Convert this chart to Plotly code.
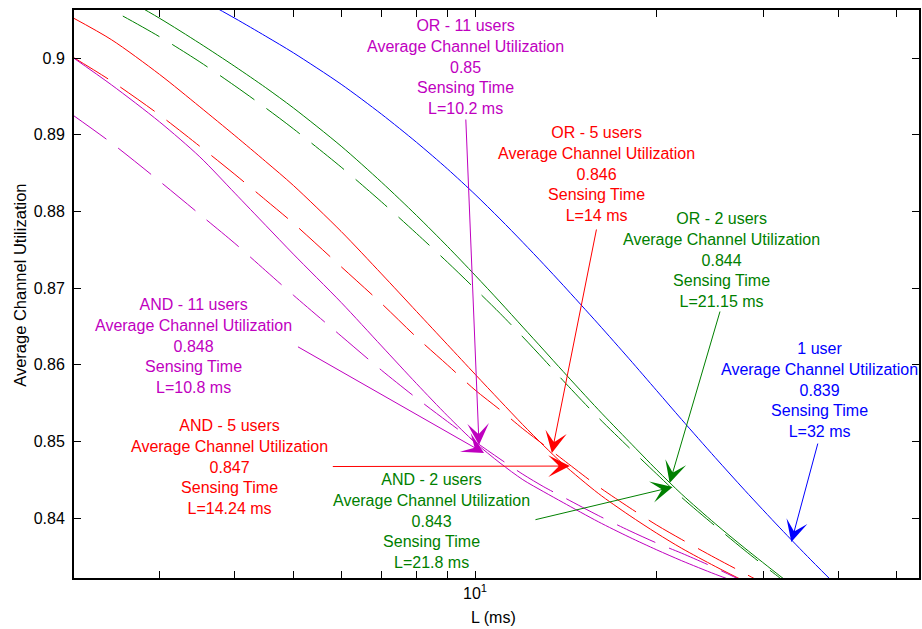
import math
import plotly.graph_objects as go

# Sensing time L (ms)
L_ms = [2.15, 2.5, 3, 3.5, 4, 4.5, 5, 6, 7, 8, 9, 10, 11, 12, 13, 14, 16, 18, 20, 22, 25, 28, 32, 36, 40]

# Average channel utilization per scheme
util_1user = [0.91522, 0.91316, 0.91034, 0.90770, 0.90518, 0.90284, 0.90068, 0.89658, 0.89267, 0.88900,
              0.88554, 0.88221, 0.87901, 0.87596, 0.87308, 0.87035, 0.86532, 0.86077, 0.85661, 0.85284,
              0.84789, 0.84360, 0.83871, 0.83455, 0.83094]
util_or2 = [0.91143, 0.90874, 0.90519, 0.90190, 0.89890, 0.89613, 0.89349, 0.88850, 0.88380, 0.87946,
            0.87543, 0.87167, 0.86818, 0.86491, 0.86190, 0.85910, 0.85415, 0.84997, 0.84628, 0.84311,
            0.83926, 0.83606, 0.83245, 0.82933, 0.82655]
util_and2 = [0.90887, 0.90626, 0.90278, 0.89949, 0.89637, 0.89348, 0.89077, 0.88577, 0.88123, 0.87711,
             0.87337, 0.86990, 0.86670, 0.86362, 0.86069, 0.85791, 0.85311, 0.84918, 0.84574, 0.84268,
             0.83896, 0.83576, 0.83218, 0.82911, 0.82631]
util_or5 = [0.90530, 0.90237, 0.89787, 0.89363, 0.88988, 0.88649, 0.88338, 0.87738, 0.87184, 0.86694,
            0.86262, 0.85876, 0.85530, 0.85217, 0.84943, 0.84702, 0.84322, 0.84037, 0.83802, 0.83605,
            0.83369, 0.83173, 0.82954, 0.82767, 0.82604]
util_and5 = [0.90017, 0.89697, 0.89258, 0.88848, 0.88482, 0.88147, 0.87845, 0.87278, 0.86798, 0.86358,
             0.85997, 0.85670, 0.85412, 0.85164, 0.84954, 0.84759, 0.84412, 0.84139, 0.83908, 0.83720,
             0.83480, 0.83275, 0.83034, 0.82826, 0.8265]
util_or11 = [0.90013, 0.89648, 0.89168, 0.88710, 0.88237, 0.87817, 0.87442, 0.86812, 0.86244, 0.85753,
             0.85334, 0.84986, 0.84718, 0.84500, 0.84342, 0.84201, 0.83952, 0.83752, 0.83585, 0.83443,
             0.83267, 0.83124, 0.82955, 0.8280, 0.8265]
util_and11 = [0.89262, 0.88890, 0.88394, 0.87960, 0.87582, 0.87225, 0.86907, 0.86374, 0.85927, 0.85563,
              0.85259, 0.84997, 0.84770, 0.84571, 0.84407, 0.84273, 0.84033, 0.83837, 0.83674, 0.83541,
              0.83349, 0.83165, 0.82957, 0.8280, 0.8265]

BLUE = "rgb(0,0,255)"
GREEN = "rgb(0,128,0)"
RED = "rgb(255,0,0)"
MAG = "rgb(191,0,191)"
DASH = "42px,15px"

series = [
    ("1 user", util_1user, BLUE, "solid"),
    ("OR - 2 users", util_or2, GREEN, "solid"),
    ("AND - 2 users", util_and2, GREEN, DASH),
    ("OR - 5 users", util_or5, RED, "solid"),
    ("AND - 5 users", util_and5, RED, DASH),
    ("OR - 11 users", util_or11, MAG, "solid"),
    ("AND - 11 users", util_and11, MAG, DASH),
]

fig = go.Figure()
for name, vals, col, dash in series:
    fig.add_trace(go.Scatter(x=L_ms, y=vals, mode="lines", name=name,
                             line=dict(color=col, width=1, dash=dash, shape="spline", smoothing=0.8)))

FONT = "Liberation Sans, Arial, Helvetica, sans-serif"

# Text blocks: (text lines, colour, paper x, paper y)
labels = [
    (["OR - 11 users", "Average Channel Utilization", "0.85", "Sensing Time", "L=10.2 ms"], MAG, 0.4634, 0.9002),
    (["OR - 5 users", "Average Channel Utilization", "0.846", "Sensing Time", "L=14 ms"], RED, 0.6186, 0.7107),
    (["OR - 2 users", "Average Channel Utilization", "0.844", "Sensing Time", "L=21.15 ms"], GREEN, 0.7660, 0.5599),
    (["1 user", "Average Channel Utilization", "0.839", "Sensing Time", "L=32 ms"], BLUE, 0.8818, 0.3310),
    (["AND - 11 users", "Average Channel Utilization", "0.848", "Sensing Time", "L=10.8 ms"], MAG, 0.1410, 0.4090),
    (["AND - 5 users", "Average Channel Utilization", "0.847", "Sensing Time", "L=14.24 ms"], RED, 0.1836, 0.1960),
    (["AND - 2 users", "Average Channel Utilization", "0.843", "Sensing Time", "L=21.8 ms"], GREEN, 0.4232, 0.1012),
]
for lines, col, px_, py_ in labels:
    fig.add_annotation(text="<br>".join(lines), xref="paper", yref="paper", x=px_, y=py_,
                       xanchor="center", yanchor="middle", showarrow=False, align="center",
                       font=dict(family=FONT, size=16, color=col))

# Arrows: (head L, head U, tail L, tail U, colour)
arrows = [
    (10.153, 0.84952, 9.652, 0.89217, MAG),
    (10.349, 0.84848, 5.060, 0.86244, MAG),
    (13.405, 0.84848, 15.909, 0.87783, RED),
    (14.357, 0.84678, 5.779, 0.84672, RED),
    (21.01, 0.84457, 25.50, 0.86713, GREEN),
    (21.25, 0.84405, 12.52, 0.83974, GREEN),
    (33.42, 0.83687, 37.03, 0.84991, BLUE),
]
for hx, hy, tx, ty, col in arrows:
    fig.add_annotation(x=math.log10(hx), y=hy, ax=math.log10(tx), ay=ty, xref="x", yref="y",
                       axref="x", ayref="y", text="", showarrow=True, arrowhead=3, arrowsize=3.6,
                       arrowwidth=1, arrowcolor=col, standoff=0, startstandoff=0)

# Axis titles
fig.add_annotation(text="L (ms)", xref="paper", yref="paper", x=0.496, y=-0.069,
                   xanchor="center", yanchor="middle", showarrow=False,
                   font=dict(family=FONT, size=16, color="black"))
fig.add_annotation(text="Average Channel Utilization", xref="paper", yref="paper", x=-0.064, y=0.516,
                   xanchor="center", yanchor="middle", showarrow=False, textangle=-90,
                   font=dict(family=FONT, size=16.5, color="black"))

x_ticks = [3, 4, 5, 6, 7, 8, 9, 10, 20, 30, 40, 50]
x_ticktext = ["" if v != 10 else "10<sup>1</sup>" for v in x_ticks]
y_ticks = [0.84, 0.85, 0.86, 0.87, 0.88, 0.89, 0.9]
y_ticktext = ["0.84", "0.85", "0.86", "0.87", "0.88", "0.89", "0.9"]

fig.update_layout(
    width=922, height=629,
    margin=dict(l=74, r=1, t=10, b=51),
    paper_bgcolor="white", plot_bgcolor="white",
    showlegend=False,
    font=dict(family=FONT, size=15, color="black"),
    xaxis=dict(type="log", range=[0.33554, 1.73554], tickmode="array", tickvals=x_ticks,
               ticktext=x_ticktext, ticks="inside", ticklen=7, tickcolor="black", tickwidth=1,
               showline=True, linecolor="black", linewidth=2, mirror="allticks",
               showgrid=False, zeroline=False, tickfont=dict(size=16)),
    yaxis=dict(range=[0.83218, 0.90626], tickmode="array", tickvals=y_ticks, ticktext=y_ticktext,
               ticks="inside", ticklen=7, tickcolor="black", tickwidth=1,
               showline=True, linecolor="black", linewidth=2, mirror="allticks",
               showgrid=False, zeroline=False, tickfont=dict(size=16), ticklabelstandoff=4),
)

fig.write_html("out.html", config={"displayModeBar": False},
               post_script="document.body.style.margin='0px';document.body.style.overflow='hidden';")
